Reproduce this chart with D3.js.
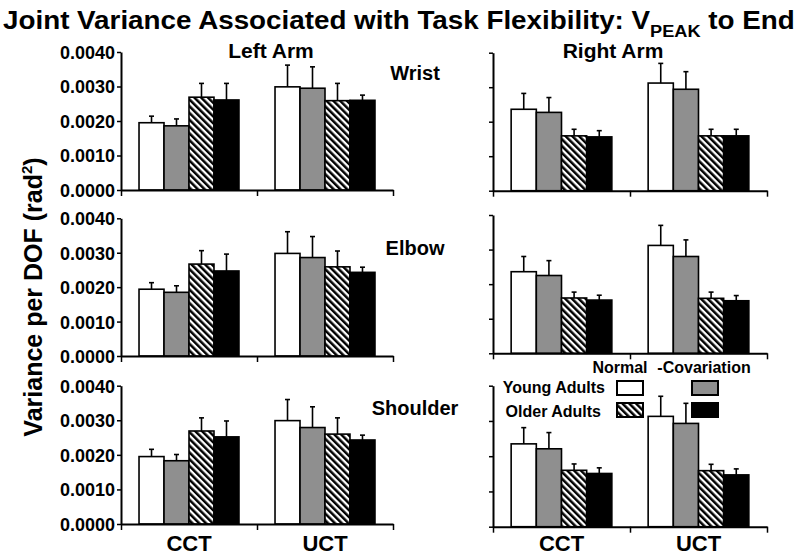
<!DOCTYPE html>
<html>
<head>
<meta charset="utf-8">
<script src="https://cdn.jsdelivr.net/npm/d3@7"></script>
<style>
    body { margin: 0; background: #fff; }
    svg text { font-family: "Liberation Sans", Arial, sans-serif; font-weight: bold; fill: #000; }
</style>
</head>
<body>
<svg id="chart" width="800" height="556"></svg>
<script>
(function () {
    'use strict';

    var arms = ["Left Arm", "Right Arm"];
    var joints = ["Wrist", "Elbow", "Shoulder"];
    var tasks = ["CCT", "UCT"];
    var groups = ["youngNormal", "youngCov", "olderNormal", "olderCov"];
    var yTicks = [0, 0.001, 0.002, 0.003, 0.004];

    // values are CCT (4 groups) then UCT (4 groups)
    var leftWristMean = [0.00195, 0.00186, 0.00269, 0.00261, 0.00299, 0.00295, 0.00259, 0.00260];
    var leftWristSd = [0.00019, 0.00020, 0.00040, 0.00048, 0.00063, 0.00062, 0.00050, 0.00015];
    var leftElbowMean = [0.00194, 0.00185, 0.00267, 0.00247, 0.00298, 0.00286, 0.00259, 0.00243];
    var leftElbowSd = [0.00019, 0.00019, 0.00039, 0.00049, 0.00063, 0.00061, 0.00046, 0.00015];
    var leftShoulderMean = [0.00195, 0.00183, 0.00269, 0.00252, 0.00299, 0.00279, 0.00260, 0.00243];
    var leftShoulderSd = [0.00021, 0.00018, 0.00038, 0.00046, 0.00061, 0.00060, 0.00047, 0.00014];
    var rightWristMean = [0.00236, 0.00227, 0.00159, 0.00156, 0.00312, 0.00294, 0.00159, 0.00159];
    var rightWristSd = [0.00046, 0.00043, 0.00019, 0.00018, 0.00057, 0.00051, 0.00019, 0.00019];
    var rightElbowMean = [0.00236, 0.00225, 0.00160, 0.00154, 0.00312, 0.00280, 0.00159, 0.00152];
    var rightElbowSd = [0.00044, 0.00043, 0.00017, 0.00014, 0.00058, 0.00048, 0.00018, 0.00015];
    var rightShoulderMean = [0.00235, 0.00221, 0.00160, 0.00151, 0.00313, 0.00293, 0.00159, 0.00147];
    var rightShoulderSd = [0.00046, 0.00046, 0.00018, 0.00016, 0.00057, 0.00057, 0.00018, 0.00017];

    var means = [[leftWristMean, leftElbowMean, leftShoulderMean], [rightWristMean, rightElbowMean, rightShoulderMean]];
    var sds = [[leftWristSd, leftElbowSd, leftShoulderSd], [rightWristSd, rightElbowSd, rightShoulderSd]];

    var fills = { youngNormal: "#ffffff", youngCov: "#8f8f8f", olderNormal: "url(#hatch)", olderCov: "#000000" };

    // panel frames [left, right] and [top, bottom] per arm/joint
    var colX = [[121, 393], [493, 767]];
    var rowY = [
        [[52, 190], [218.3, 356], [385.7, 524]],
        [[52.7, 190.7], [215, 353.3], [385.7, 526.7]]
    ];

    var svg = d3.select("#chart");

    var defs = svg.append("defs");
    var pat = defs.append("pattern")
        .attr("id", "hatch")
        .attr("patternUnits", "userSpaceOnUse")
        .attr("width", 4.8).attr("height", 8)
        .attr("patternTransform", "rotate(-45)");
    pat.append("rect").attr("width", 4.8).attr("height", 8).attr("fill", "#fff");
    pat.append("rect").attr("width", 2.5).attr("height", 8).attr("fill", "#000");

    function drawPanel(a, j) {
        var x0 = colX[a][0], x1 = colX[a][1];
        var top = rowY[a][j][0], bottom = rowY[a][j][1];

        var y = d3.scaleLinear().domain([0, 0.004]).range([bottom, top]);
        var xTask = d3.scaleBand().domain(tasks).range([x0, x1])
            .paddingInner(0.265).paddingOuter(0.1325);
        var xGroup = d3.scaleBand().domain(groups).range([0, xTask.bandwidth()]);
        var xTick = d3.scaleLinear().domain([0, 2]).range([x0, x1]);

        var g = svg.append("g");

        var rows = [];
        tasks.forEach(function (t, ti) {
            groups.forEach(function (grp, gi) {
                rows.push({ task: t, group: grp, mean: means[a][j][ti * 4 + gi], sd: sds[a][j][ti * 4 + gi] });
            });
        });

        g.selectAll("rect.bar").data(rows).enter().append("rect")
            .attr("class", "bar")
            .attr("x", function (d) { return xTask(d.task) + xGroup(d.group); })
            .attr("y", function (d) { return y(d.mean); })
            .attr("width", xGroup.bandwidth())
            .attr("height", function (d) { return y(0) - y(d.mean); })
            .attr("fill", function (d) { return fills[d.group]; })
            .attr("stroke", "#000")
            .attr("stroke-width", 1.6);

        var err = g.selectAll("g.err").data(rows).enter().append("g")
            .attr("class", "err")
            .attr("stroke", "#000")
            .attr("stroke-width", 1.6);
        function cx(d) { return xTask(d.task) + xGroup(d.group) + xGroup.bandwidth() / 2; }
        err.append("line")
            .attr("x1", cx).attr("x2", cx)
            .attr("y1", function (d) { return y(d.mean); })
            .attr("y2", function (d) { return y(d.mean + d.sd); });
        err.append("line")
            .attr("x1", function (d) { return cx(d) - 2.5; })
            .attr("x2", function (d) { return cx(d) + 2.5; })
            .attr("y1", function (d) { return y(d.mean + d.sd); })
            .attr("y2", function (d) { return y(d.mean + d.sd); });

        var yAxis = d3.axisLeft(y).tickValues(yTicks).tickSize(4).tickSizeOuter(0)
            .tickFormat(a === 0 ? d3.format(".4f") : "");
        var ya = g.append("g").attr("transform", "translate(" + x0 + ",0)").call(yAxis);
        ya.select(".domain").attr("stroke-width", 2);
        ya.selectAll(".tick line").attr("stroke-width", 1.5);
        ya.selectAll(".tick text")
            .attr("font-size", 18).attr("x", -6).attr("dy", "0.36em")
            .style("font-family", "'Liberation Sans', Arial, sans-serif").style("font-weight", "bold");

        var xAxis = d3.axisBottom(xTick).tickValues([0, 1, 2]).tickSize(6).tickSizeOuter(0).tickFormat("");
        var xa = g.append("g").attr("transform", "translate(0," + bottom + ")").call(xAxis);
        xa.select(".domain").attr("stroke-width", 2);
        xa.selectAll(".tick line").attr("stroke-width", 1.5);

        if (j === 2) {
            g.selectAll("text.cat").data(tasks).enter().append("text")
                .attr("class", "cat")
                .attr("x", function (t) { return xTask(t) + xTask.bandwidth() / 2; })
                .attr("y", 551)
                .attr("text-anchor", "middle")
                .attr("font-size", 22)
                .text(function (t) { return t; });
        }
    }

    arms.forEach(function (arm, a) {
        joints.forEach(function (joint, j) { drawPanel(a, j); });
    });

    // arm headings
    var armX = [271, 613];
    svg.selectAll("text.arm").data(arms).enter().append("text")
        .attr("class", "arm")
        .attr("x", function (d, i) { return armX[i]; })
        .attr("y", 58)
        .attr("text-anchor", "middle")
        .attr("font-size", 21)
        .text(function (d) { return d; });

    // joint labels
    var jointY = [80, 255, 415];
    svg.selectAll("text.joint").data(joints).enter().append("text")
        .attr("class", "joint")
        .attr("x", 415)
        .attr("y", function (d, i) { return jointY[i]; })
        .attr("text-anchor", "middle")
        .attr("font-size", 20)
        .text(function (d) { return d; });

    // title
    var title = svg.append("text").attr("x", 0).attr("y", 0).attr("font-size", 26);
    title.append("tspan").text("Joint Variance Associated with Task Flexibility: V");
    title.append("tspan").attr("font-size", 17).attr("dy", 8).text("PEAK");
    title.append("tspan").attr("dy", -8).text(" to End");
    var tw = title.node().getBBox().width;
    title.attr("transform", "translate(3,29) scale(" + (792 / tw) + ",1)");

    // y label
    var yl = svg.append("text")
        .attr("transform", "translate(42,297) rotate(-90)")
        .attr("text-anchor", "middle")
        .attr("font-size", 25);
    yl.append("tspan").text("Variance per DOF (rad");
    yl.append("tspan").attr("font-size", 15).attr("dy", -10).text("2");
    yl.append("tspan").attr("dy", 10).text(")");

    // legend
    var lg = svg.append("g");
    lg.append("text").attr("x", 620).attr("y", 373).attr("text-anchor", "middle").attr("font-size", 16).text("Normal");
    lg.append("text").attr("x", 704).attr("y", 373).attr("text-anchor", "middle").attr("font-size", 16).text("-Covariation");
    lg.append("text").attr("x", 605).attr("y", 393).attr("text-anchor", "end").attr("font-size", 16).text("Young Adults");
    lg.append("text").attr("x", 601).attr("y", 417).attr("text-anchor", "end").attr("font-size", 16).text("Older Adults");
    var legendBoxes = [
        { group: "youngNormal", x: 617, y: 381 },
        { group: "youngCov", x: 692, y: 381 },
        { group: "olderNormal", x: 617, y: 403 },
        { group: "olderCov", x: 692, y: 403 }
    ];
    lg.selectAll("rect").data(legendBoxes).enter().append("rect")
        .attr("x", function (d) { return d.x; })
        .attr("y", function (d) { return d.y; })
        .attr("width", 26).attr("height", 14)
        .attr("fill", function (d) { return fills[d.group]; })
        .attr("stroke", "#000").attr("stroke-width", 2);
}());
</script>
</body>
</html>
